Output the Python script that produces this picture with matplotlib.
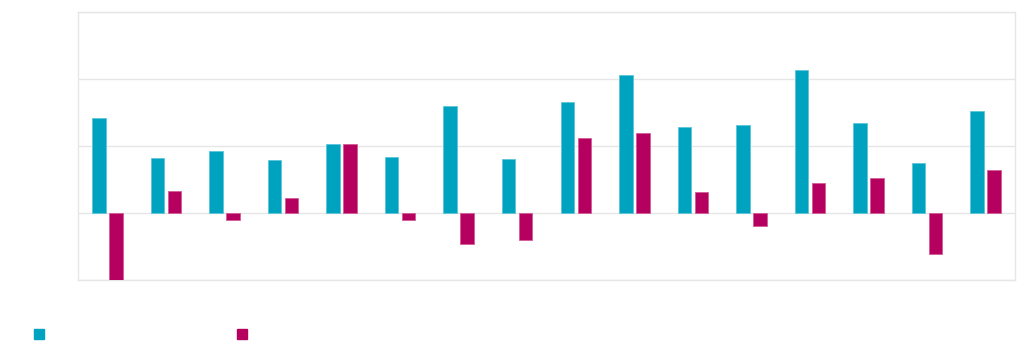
import matplotlib
matplotlib.use('Agg')

import matplotlib.pyplot as plt
from matplotlib.lines import Line2D
import numpy as np

# Values (no labels visible)
groups = list(range(16))
series_a = [1.42, 0.82, 0.93, 0.79, 1.03, 0.84, 1.60, 0.81,
            1.66, 2.06, 1.28, 1.31, 2.13, 1.34, 0.75, 1.52]
series_b = [-1.00, 0.33, -0.10, 0.22, 1.03, -0.10, -0.46, -0.40,
            1.12, 1.19, 0.31, -0.19, 0.45, 0.52, -0.61, 0.64]
series_names = ['', '']

TEAL = '#00a3bf'
MAGENTA = '#b5005f'
GRID = '#e6e6e6'

fig = plt.figure(figsize=(10.24, 3.54), dpi=100)
ax = fig.add_axes([78 / 1024, 74 / 354, 937 / 1024, 268 / 354])

x = np.arange(len(groups))
width = 0.23
ax.bar(x - 0.145, series_a, width, color=TEAL, edgecolor='#5cc6d8', linewidth=0.6, zorder=3)
ax.bar(x + 0.145, series_b, width, color=MAGENTA, edgecolor='#d45c97', linewidth=0.6, zorder=3)

ax.set_xlim(-0.5, len(groups) - 0.5)
ax.set_ylim(-1, 3)
ax.set_yticks([-1, 0, 1, 2, 3])
ax.grid(axis='y', color=GRID, linewidth=1, zorder=0)
ax.tick_params(left=False, bottom=False, labelleft=False, labelbottom=False)
for s in ax.spines.values():
    s.set_color(GRID)
    s.set_linewidth(1)

handles = [Line2D([], [], marker='s', linestyle='none', markersize=6.5,
                  markerfacecolor=c, markeredgecolor=c) for c in (TEAL, MAGENTA)]
fig.legend(handles, series_names, loc='center left', bbox_to_anchor=(22 / 1024, 19 / 354),
           ncol=2, frameon=False, handlelength=0.7, handletextpad=0,
           columnspacing=13.9, fontsize=10)

fig.savefig('out.png', dpi=100)
plt.close(fig)
